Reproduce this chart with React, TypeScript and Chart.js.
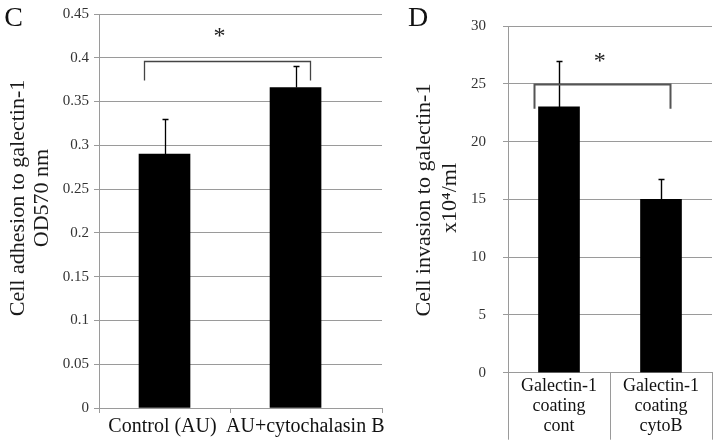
import React, { useEffect, useRef } from 'react';
import { Chart, registerables } from 'chart.js';

Chart.register(...registerables);

const SERIF = "'Liberation Serif', 'Times New Roman', serif";
const GRID = '#9a9a9a';

// ---------- Panel C ----------
const categoriesC = ['Control (AU)', 'AU+cytochalasin B'];
const valuesC = [0.29, 0.366];
const errorsC = [0.04, 0.025];
const yTicksC = [0, 0.05, 0.1, 0.15, 0.2, 0.25, 0.3, 0.35, 0.4, 0.45];
const titleC = ['Cell adhesion to galectin-1', 'OD570 nm'];
const bracketC = [0.34, 1.61];
const bracketTopC = 0.396;
const bracketLegC = 0.374;
const starC = { x: 0.92, y: 0.426 };
const xMaxC = 2.16;

// ---------- Panel D ----------
const categoriesD = [
  ['Galectin-1', 'coating', 'cont'],
  ['Galectin-1', 'coating', 'cytoB'],
];
const valuesD = [23, 15];
const errorsD = [4, 1.8];
const yTicksD = [0, 5, 10, 15, 20, 25, 30];
const titleD = ['Cell invasion to galectin-1', 'x10\u2074/ml'];
const bracketD = [-0.25, 1.09];
const bracketTopD = 25;
const bracketLegD = 22.85;
const starD = { x: 0.4, y: 27.1 };

const snap = (v: number) => Math.round(v) + 0.5;

function drawErrorBars(ctx: CanvasRenderingContext2D, x: any, y: any, vals: number[], errs: number[], xOf: (i: number) => number, lw: number) {
  ctx.strokeStyle = '#000';
  ctx.lineWidth = lw;
  vals.forEach((v, i) => {
    const px = snap(x.getPixelForValue(xOf(i)));
    const base = y.getPixelForValue(v);
    const top = snap(y.getPixelForValue(v + errs[i]));
    ctx.beginPath();
    ctx.moveTo(px, base);
    ctx.lineTo(px, top);
    ctx.moveTo(px - 3, top);
    ctx.lineTo(px + 3, top);
    ctx.stroke();
  });
}

function drawBracket(ctx: CanvasRenderingContext2D, x: any, y: any, ends: number[], top: number, leg: number, color: string, lw: number) {
  const x0 = snap(x.getPixelForValue(ends[0]));
  const x1 = snap(x.getPixelForValue(ends[1]));
  const yt = snap(y.getPixelForValue(top));
  const yl = y.getPixelForValue(leg);
  ctx.strokeStyle = color;
  ctx.lineWidth = lw;
  ctx.beginPath();
  ctx.moveTo(x0, yl);
  ctx.lineTo(x0, yt);
  ctx.lineTo(x1, yt);
  ctx.lineTo(x1, yl);
  ctx.stroke();
}

function drawStar(ctx: CanvasRenderingContext2D, x: any, y: any, s: { x: number; y: number }) {
  ctx.fillStyle = '#222';
  ctx.font = `24px ${SERIF}`;
  ctx.textAlign = 'center';
  ctx.textBaseline = 'alphabetic';
  ctx.fillText('*', x.getPixelForValue(s.x), y.getPixelForValue(s.y) + 8);
}

function drawTitle(ctx: CanvasRenderingContext2D, lines: string[], xs: number[], ys: number[]) {
  ctx.fillStyle = '#1a1a1a';
  ctx.font = `22px ${SERIF}`;
  ctx.textAlign = 'center';
  ctx.textBaseline = 'middle';
  lines.forEach((t, i) => {
    ctx.save();
    ctx.translate(xs[i], ys[i]);
    ctx.rotate(-Math.PI / 2);
    ctx.fillText(t, 0, 0);
    ctx.restore();
  });
}

function drawLetter(ctx: CanvasRenderingContext2D, letter: string, cx: number) {
  ctx.fillStyle = '#111';
  ctx.font = `28px ${SERIF}`;
  ctx.textAlign = 'center';
  ctx.textBaseline = 'alphabetic';
  ctx.fillText(letter, cx, 26);
}

const overlayC = {
  id: 'overlayC',
  afterDraw(chart: any) {
    const { ctx } = chart;
    const x = chart.scales.x;
    const y = chart.scales.y;
    ctx.save();
    drawErrorBars(ctx, x, y, valuesC, errorsC, (i) => i + 0.5, 1.3);
    drawBracket(ctx, x, y, bracketC, bracketTopC, bracketLegC, '#444', 1.3);
    drawStar(ctx, x, y, starC);
    // category labels
    ctx.fillStyle = '#111';
    ctx.font = `20px ${SERIF}`;
    ctx.textBaseline = 'alphabetic';
    const base = chart.chartArea.bottom + 23.5;
    ctx.textAlign = 'center';
    ctx.fillText(categoriesC[0], x.getPixelForValue(0.5) - 2, base);
    ctx.textAlign = 'left';
    ctx.fillText(categoriesC[1], x.getPixelForValue(1) - 4, base);
    drawTitle(ctx, titleC, [18, 42], [198, 198]);
    drawLetter(ctx, 'C', 13.5);
    ctx.restore();
  },
};

const overlayD = {
  id: 'overlayD',
  afterDraw(chart: any) {
    const { ctx } = chart;
    const x = chart.scales.x;
    const y = chart.scales.y;
    ctx.save();
    drawErrorBars(ctx, x, y, valuesD, errorsD, (i) => i, 1.4);
    drawBracket(ctx, x, y, bracketD, bracketTopD, bracketLegD, '#555', 2);
    drawStar(ctx, x, y, starD);
    drawTitle(ctx, titleD, [29, 55], [200, 198]);
    drawLetter(ctx, 'D', 23);
    ctx.restore();
  },
};

export default function App() {
  const refC = useRef<HTMLCanvasElement>(null);
  const refD = useRef<HTMLCanvasElement>(null);

  useEffect(() => {
    const chartC = new Chart(refC.current as HTMLCanvasElement, {
      type: 'bar',
      data: {
        datasets: [
          {
            data: valuesC.map((v, i) => ({ x: i + 0.5, y: v })),
            backgroundColor: '#000',
            borderWidth: 0,
            barThickness: 51,
          },
        ],
      },
      options: {
        animation: false,
        responsive: false,
        devicePixelRatio: 1,
        layout: { padding: { top: 12, right: 13, left: 0, bottom: 0 } },
        plugins: { legend: { display: false }, tooltip: { enabled: false } },
        scales: {
          x: {
            type: 'linear',
            min: 0,
            max: xMaxC,
            offset: false,
            afterBuildTicks: (s: any) => {
              s.ticks = [0, 1, xMaxC].map((value) => ({ value }));
            },
            ticks: { display: false },
            grid: { offset: false, drawOnChartArea: false, drawTicks: true, tickLength: 5, color: GRID },
            border: { color: GRID },
            afterFit: (s: any) => {
              s.height = 36;
            },
          },
          y: {
            min: 0,
            max: 0.45,
            afterBuildTicks: (s: any) => {
              s.ticks = yTicksC.map((value) => ({ value }));
            },
            ticks: {
              callback: (v: any) => String(v),
              font: { family: SERIF, size: 15 },
              color: '#333',
              padding: 5,
            },
            grid: { color: GRID, tickLength: 5 },
            border: { color: GRID },
            afterFit: (s: any) => {
              s.width = 99;
            },
          },
        },
      } as any,
      plugins: [overlayC],
    });

    const chartD = new Chart(refD.current as HTMLCanvasElement, {
      type: 'bar',
      data: {
        labels: categoriesD as any,
        datasets: [
          {
            data: valuesD,
            backgroundColor: '#000',
            borderWidth: 0,
            barThickness: 41,
          },
        ],
      },
      options: {
        animation: false,
        responsive: false,
        devicePixelRatio: 1,
        layout: { padding: { top: 18, right: 6, left: 0, bottom: 0 } },
        plugins: { legend: { display: false }, tooltip: { enabled: false } },
        scales: {
          x: {
            grid: { drawOnChartArea: false, drawTicks: true, tickLength: 67, color: GRID },
            border: { color: GRID },
            ticks: {
              font: { family: SERIF, size: 18, lineHeight: 1.11 },
              color: '#111',
              padding: -63,
              maxRotation: 0,
              autoSkip: false,
            },
            afterFit: (s: any) => {
              s.height = 71.3;
            },
          },
          y: {
            min: 0,
            max: 30,
            afterBuildTicks: (s: any) => {
              s.ticks = yTicksD.map((value) => ({ value }));
            },
            ticks: {
              callback: (v: any) => String(v),
              font: { family: SERIF, size: 15 },
              color: '#333',
              padding: 17,
            },
            grid: { color: GRID, tickLength: 5 },
            border: { color: GRID },
            afterFit: (s: any) => {
              s.width = 113;
            },
          },
        },
      } as any,
      plugins: [overlayD],
    });

    return () => {
      chartC.destroy();
      chartD.destroy();
    };
  }, []);

  return (
    <div style={{ position: 'fixed', left: 0, top: 0, width: 718, height: 444, background: '#fff', overflow: 'hidden' }}>
      <canvas
        ref={refC}
        width={395}
        height={444}
        style={{ position: 'absolute', left: 0, top: 0, width: 395, height: 444 }}
      />
      <canvas
        ref={refD}
        width={323}
        height={444}
        style={{ position: 'absolute', left: 395, top: 0, width: 323, height: 444 }}
      />
    </div>
  );
}
